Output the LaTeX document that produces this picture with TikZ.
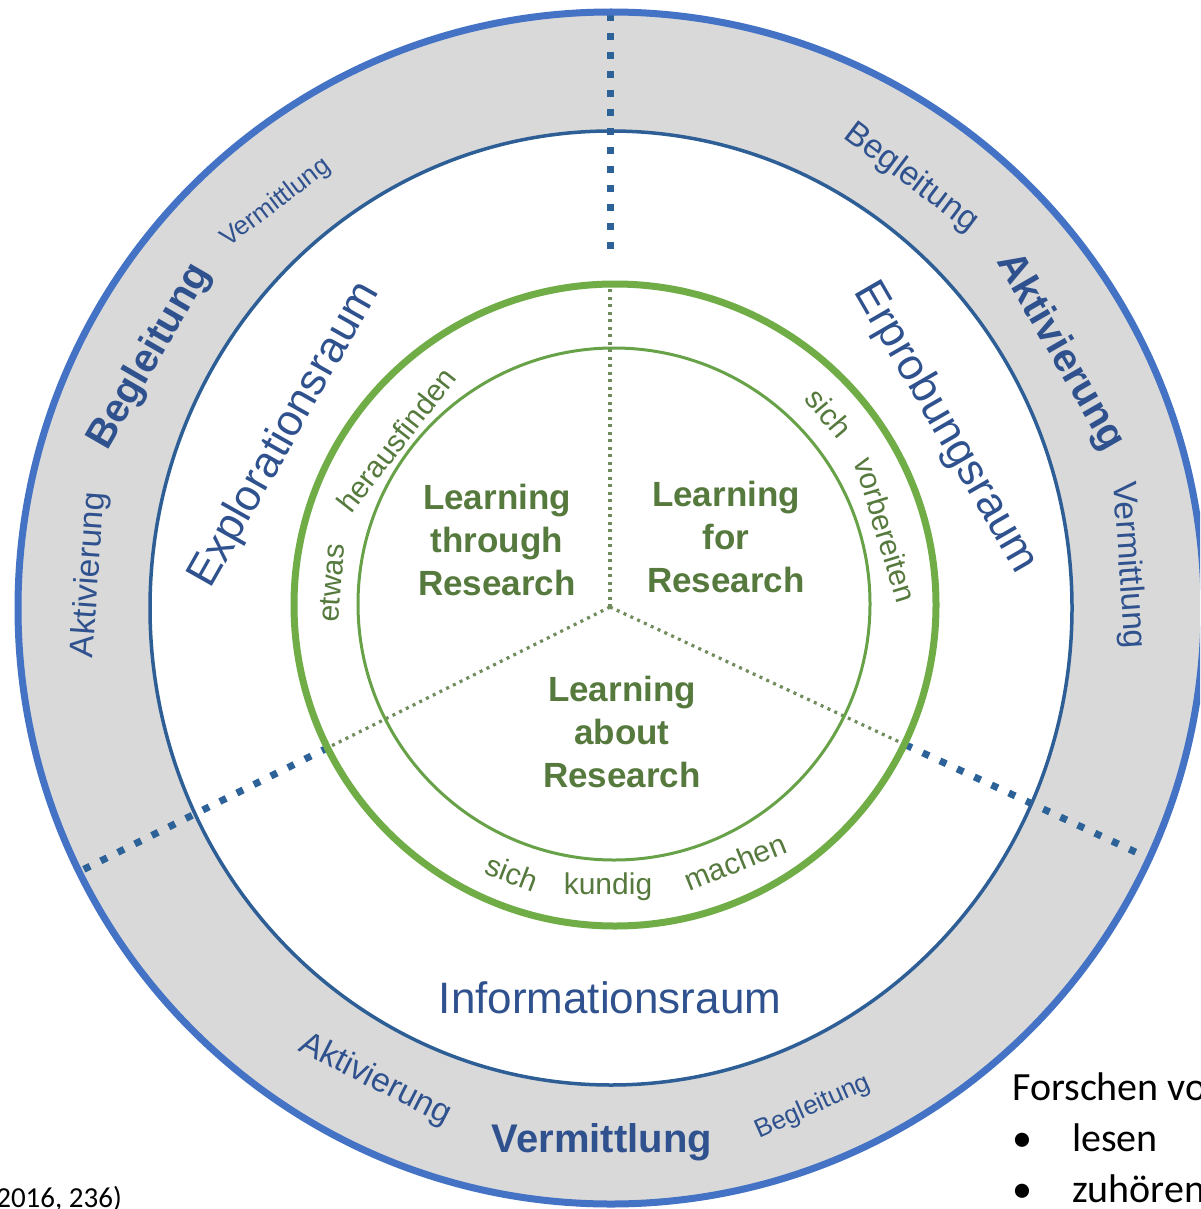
\documentclass[tikz,border=0pt]{standalone}
\usepackage{fontspec}
\setmainfont{Liberation Sans}
\newfontfamily\calibfont{Carlito}
\usetikzlibrary{calc}
\definecolor{ringgray}{RGB}{217,217,217}
\definecolor{outerblue}{RGB}{68,114,196}
\definecolor{innerblue}{RGB}{46,94,150}
\definecolor{dotblue}{RGB}{44,98,152}
\definecolor{txtblue}{RGB}{47,82,143}
\definecolor{thickgreen}{RGB}{112,173,71}
\definecolor{thingreen}{RGB}{104,162,72}
\definecolor{txtgreen}{RGB}{86,122,62}
\definecolor{dotgreen}{RGB}{112,140,92}
\tikzset{
  wordtxt/.style={inner sep=0pt, text=txtblue},
  ringnormal/.style={wordtxt, font=\fontsize{33.5}{40}\selectfont},
  ringbold/.style={wordtxt, font=\fontsize{40}{48}\selectfont\bfseries},
  ringsmall/.style={wordtxt, font=\fontsize{26}{31}\selectfont},
  raumtxt/.style={wordtxt, font=\fontsize{44}{52}\selectfont},
  learntxt/.style={inner sep=0pt, text=txtgreen, align=center, font=\fontsize{35}{43}\selectfont\bfseries},
  greenword/.style={inner sep=0pt, text=txtgreen, font=\fontsize{30}{35}\selectfont},
  slidetxt/.style={inner sep=0pt, text=black, font=\calibfont\fontsize{40}{48}\selectfont},
  bluedots/.style={dotblue, line width=7pt, dash pattern=on 7pt off 12pt},
  greendots/.style={dotgreen, line width=3.2pt, dash pattern=on 3pt off 4.5pt},
}
\begin{document}
\begin{tikzpicture}[x=1pt,y=1pt]
\useasboundingbox (0,0) rectangle (1200,-1209);
\clip (0,0) rectangle (1200,-1209);
\fill[white] (0,0) rectangle (1200,-1209);
\coordinate (C) at (611,-608);
\coordinate (O) at (610,-607);
\coordinate (G) at (615,-605);
\coordinate (Gt) at (614,-604);
% gray ring
\fill[ringgray, even odd rule] (C) ellipse [x radius=593pt, y radius=596pt] (C) ellipse [x radius=461pt, y radius=477pt];
% dividing lines
\coordinate (Vtop) at (610,-14);
\coordinate (Vblue) at (610,-260);
\coordinate (Vgreen) at (610,-284);
\coordinate (Lg) at ($(O)+(206.5:315)$);
\coordinate (Lo) at ($(O)+(206.5:588)$);
\coordinate (Rg) at ($(O)+(335:326)$);
\coordinate (Ro) at ($(O)+(335:592)$);
\draw[greendots] (O) -- (Vgreen);
\draw[greendots] (O) -- (Lg);
\draw[greendots] (O) -- (Rg);
\draw[bluedots] (Vtop) -- (Vblue);
\draw[bluedots] (Lg) -- (Lo);
\draw[bluedots] (Rg) -- (Ro);
% circles
\draw[innerblue, line width=3.5pt] (C) ellipse [x radius=461pt, y radius=477pt];
\draw[outerblue, line width=7pt] (C) ellipse [x radius=593pt, y radius=596pt];
\draw[thickgreen, line width=7pt] (G) circle [radius=321pt];
\draw[thingreen, line width=3pt] (Gt) circle [radius=256pt];
% outer ring words
\node[ringnormal, rotate=86] (aktL) at (90,-575) {Aktivierung};
\node[ringbold, rotate=60] (begL) at (150,-357) {Begleitung};
\node[ringsmall, rotate=37] (verL) at (276,-203) {Vermittlung};
\node[ringnormal, rotate=-37] (begR) at (911,-178) {Begleitung};
\node[ringbold, rotate=-60] (aktR) at (1060,-352) {Aktivierung};
\node[ringnormal, rotate=-86] (verR) at (1128,-565) {Vermittlung};
\node[ringnormal, rotate=-27] (aktB) at (375,-1080) {Aktivierung};
\node[ringbold] (verB) at (602,-1142) {Vermittlung};
\node[ringsmall, rotate=24] (begB) at (813,-1107) {Begleitung};
% spaces
\node[raumtxt, rotate=60.5] (expl) at (285,-435) {Explorationsraum};
\node[raumtxt, rotate=-60] (erpr) at (945,-428) {Erprobungsraum};
\node[raumtxt] (info) at (610,-998) {Informationsraum};
% learning
\node[learntxt] (lthr) at (497,-540) {Learning\\through\\Research};
\node[learntxt] (lfor) at (726,-537) {Learning\\for\\Research};
\node[learntxt] (labt) at (622,-732) {Learning\\about\\Research};
% green words
\node[greenword, rotate=86] (etw) at (332,-583) {etwas};
\node[greenword, rotate=52] (her) at (396,-440) {herausfinden};
\node[greenword, rotate=-50] (sich1) at (829,-413) {sich};
\node[greenword, rotate=-73] (vorb) at (886,-530) {vorbereiten};
\node[greenword, rotate=-21] (sich2) at (512,-873) {sich};
\node[greenword] (kund) at (608,-887) {kundig};
\node[greenword, rotate=22] (mach) at (735,-862) {machen};
% slide text
\node[slidetxt, anchor=base west] (forsch) at (1012,-1100) {Forschen vo};
\node[slidetxt, anchor=base west] (b1) at (1012,-1151) {\textbullet};
\node[slidetxt, anchor=base west] (lesen) at (1072,-1151) {lesen};
\node[slidetxt, anchor=base west] (b2) at (1012,-1202) {\textbullet};
\node[slidetxt, anchor=base west] (zuh) at (1072,-1202) {zuhören};
\node[slidetxt, font=\calibfont\fontsize{29}{34}\selectfont, anchor=base east] (cite) at (122,-1207) {2016, 236)};
\end{tikzpicture}
\end{document}
